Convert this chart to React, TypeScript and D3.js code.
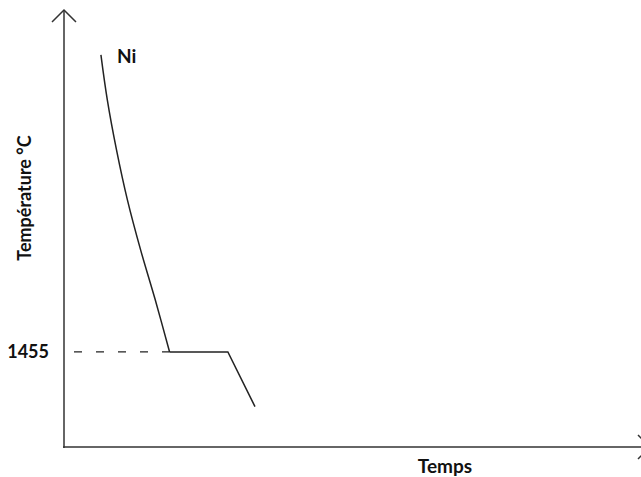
import React, { useEffect, useRef } from 'react';
import * as d3 from 'd3';

// cooling curve of nickel (time in arbitrary units, temperature in °C)
const coolingTime = [6.4, 7.5, 9.1, 11.0, 13.3, 15.8, 18.3];
const coolingTemp = [1727, 1686, 1640, 1594, 1548, 1503, 1455];
// solidification plateau then solid cooling
const plateauTime = [18.3, 28.4, 33.1];
const plateauTemp = [1455, 1455, 1405];

const meltingPoint = 1455;
const metalLabel = 'Ni';
const xTitle = 'Temps';
const yTitle = 'Température °C';

const App = () => {
  const ref = useRef<SVGSVGElement>(null);

  useEffect(() => {
    const width = 641;
    const height = 477;
    const svg = d3.select(ref.current);
    svg.selectAll('*').remove();

    const x0 = 64;
    const y0 = 447;

    const x = d3.scaleLinear().domain([0, 100]).range([x0, 641]);
    const y = d3.scaleLinear().domain([1368, 1768]).range([y0, 10]);

    const axisColor = '#333';
    const fontFamily = 'Lato, "Open Sans", sans-serif';

    // axes with arrow heads
    const axes = svg.append('g')
      .attr('fill', 'none')
      .attr('stroke', axisColor)
      .attr('stroke-width', 1.5);

    axes.append('line').attr('x1', x0).attr('y1', y0 + 1).attr('x2', x0).attr('y2', 10);
    axes.append('path').attr('d', `M${x0 - 12},22 L${x0},10 L${x0 + 12},22`);
    axes.append('line').attr('x1', x0 - 1).attr('y1', y0).attr('x2', 650).attr('y2', y0);
    axes.append('path').attr('d', `M638,435 L650,${y0} L638,459`);

    // dashed guide to the melting point
    svg.append('line')
      .attr('x1', x0)
      .attr('x2', x(plateauTime[0]))
      .attr('y1', y(meltingPoint))
      .attr('y2', y(meltingPoint))
      .attr('stroke', '#222')
      .attr('stroke-width', 1.2)
      .attr('stroke-dasharray', '8,14')
      .attr('stroke-dashoffset', 12);

    const line = d3.line<[number, number]>()
      .x(d => x(d[0]))
      .y(d => y(d[1]));

    svg.append('path')
      .datum(coolingTime.map((t, i) => [t, coolingTemp[i]] as [number, number]))
      .attr('d', line.curve(d3.curveCatmullRom))
      .attr('fill', 'none')
      .attr('stroke', '#222')
      .attr('stroke-width', 1.5);

    svg.append('path')
      .datum(plateauTime.map((t, i) => [t, plateauTemp[i]] as [number, number]))
      .attr('d', line.curve(d3.curveLinear))
      .attr('fill', 'none')
      .attr('stroke', '#222')
      .attr('stroke-width', 1.5);

    // labels
    svg.append('text')
      .attr('x', 117)
      .attr('y', 63)
      .attr('font-family', fontFamily)
      .attr('font-weight', 'bold')
      .attr('font-size', 19)
      .attr('fill', '#111')
      .text(metalLabel);

    svg.append('text')
      .attr('x', 49)
      .attr('y', y(meltingPoint) + 6)
      .attr('text-anchor', 'end')
      .attr('font-family', fontFamily)
      .attr('font-weight', 'bold')
      .attr('font-size', 18)
      .attr('fill', '#111')
      .text(String(meltingPoint));

    svg.append('text')
      .attr('x', 445)
      .attr('y', 473)
      .attr('text-anchor', 'middle')
      .attr('font-family', fontFamily)
      .attr('font-weight', 'bold')
      .attr('font-size', 19)
      .attr('fill', '#111')
      .text(xTitle);

    svg.append('text')
      .attr('transform', `translate(31,198) rotate(-90)`)
      .attr('text-anchor', 'middle')
      .attr('font-family', fontFamily)
      .attr('font-weight', 'bold')
      .attr('font-size', 18)
      .attr('fill', '#111')
      .text(yTitle);

    svg.attr('width', width).attr('height', height);
  }, []);

  return (
    <svg
      ref={ref}
      width={641}
      height={477}
      style={{ position: 'fixed', left: 0, top: 0, background: '#fff' }}
    />
  );
};

export default App;
